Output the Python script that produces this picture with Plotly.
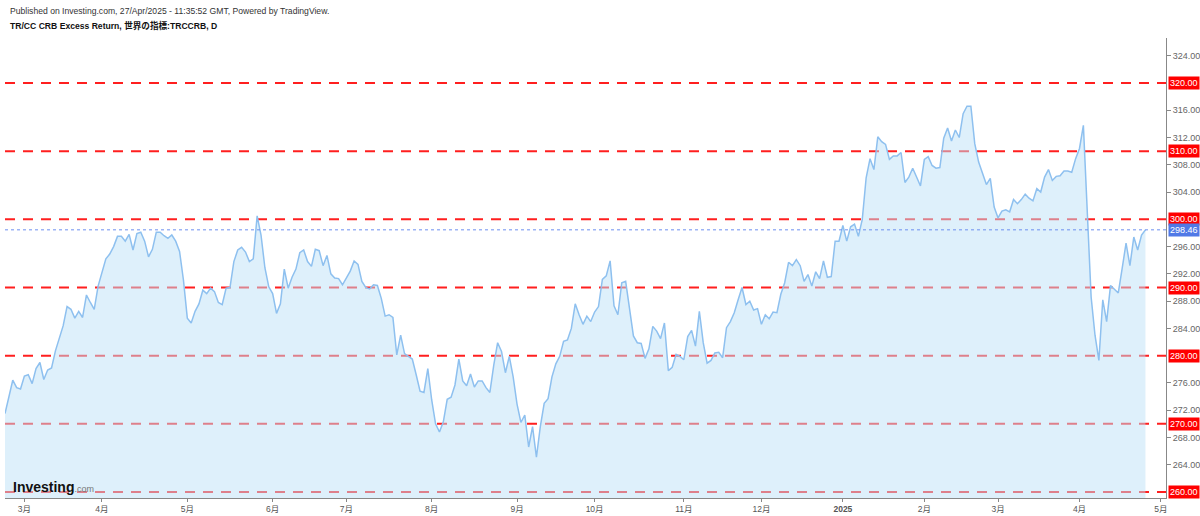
import pandas as pd
import plotly.graph_objects as go

# ---- data ----
start_date = "2024-02-23"
tick_end_date = "2025-05-01"
holidays = ["2024-03-29", "2024-05-27", "2024-06-19", "2024-07-04", "2024-09-02",
            "2024-11-28", "2024-12-25", "2025-01-01", "2025-01-20", "2025-02-17",
            "2025-04-18"]

values = [
    271.5, 274.0, 276.4, 275.3, 275.1, 277.0, 277.2, 275.9, 278.1, 279.0,
    276.5, 277.9, 278.2, 280.7, 282.7, 284.4, 287.2, 286.8, 285.5, 286.5,
    285.6, 288.9, 287.8, 286.8, 290.2, 292.4, 294.2, 294.9, 296.0, 297.5,
    297.5, 296.8, 297.8, 295.5, 297.9, 298.1, 296.8, 294.5, 295.6, 298.1,
    298.1, 297.6, 297.2, 297.7, 296.8, 295.3, 291.1, 285.5, 284.8, 286.5,
    287.6, 289.6, 289.1, 289.9, 289.4, 287.8, 287.5, 289.9, 290.0, 293.8,
    295.5, 295.9, 295.2, 293.8, 294.2, 300.5, 297.7, 292.9, 290.1, 289.1,
    286.2, 287.6, 292.7, 289.9, 291.5, 292.7, 295.1,
    295.5, 293.8, 293.1, 295.6, 295.4, 293.2, 294.7, 292.0, 291.4, 291.3,
    290.4, 291.5, 292.4, 293.9, 293.4, 290.9, 290.0, 289.8, 290.4, 290.3,
    288.4, 285.8, 286.0, 285.6, 280.1, 283.0, 280.3, 279.9, 279.5, 277.2,
    274.8, 274.6, 278.1, 273.5, 270.0, 268.8, 270.3, 273.6, 273.9, 275.7,
    279.5, 276.3, 275.6, 277.3, 275.4, 276.3, 276.3, 275.3, 274.6, 278.6,
    281.9, 280.6, 277.5, 279.9, 276.9, 272.9, 270.2, 271.3, 266.6, 269.6,
    265.1, 269.6, 273.0, 273.7, 276.9, 278.8, 279.9, 282.1, 282.3, 284.0,
    287.6, 286.0, 284.6, 285.8,
    285.0, 286.4, 287.2, 291.2, 291.7, 293.9, 287.3, 286.0, 290.7, 290.9,
    287.0, 282.9, 281.9, 281.8, 279.6, 281.0, 284.3, 283.6, 282.5, 284.8,
    277.8, 278.3, 280.2, 279.9, 279.4, 282.8, 283.7, 281.4, 286.5, 281.9,
    278.9, 279.3, 280.4, 280.5, 279.7, 284.1, 285.0, 286.3, 288.2, 290.0,
    287.5, 288.0, 286.7, 286.9, 284.6, 286.0, 285.4, 286.4, 286.3, 289.0,
    290.7, 293.7, 293.2, 294.1, 293.2, 290.9, 291.9, 290.2, 292.3, 291.3,
    293.9, 291.5, 291.6, 296.8, 296.8, 299.1, 296.8, 298.9, 299.3, 297.5,
    300.0, 306.1,
    308.9, 307.3, 312.1, 311.4, 311.0, 308.8, 309.3, 309.3, 309.8, 305.4,
    306.2, 307.5, 306.2, 304.9, 308.8, 309.2, 307.9, 307.5, 307.6, 311.9,
    313.4, 311.5, 313.1, 312.0, 315.5, 316.6, 316.6, 311.1, 308.4, 306.7,
    305.1, 306.0, 301.8, 300.2, 301.2, 301.4, 301.1, 302.9, 302.3, 302.9,
    303.7, 303.1, 302.7, 304.5, 304.0, 306.2, 307.3, 305.7, 306.3, 306.4,
    307.1, 307.1, 306.9, 308.9, 310.4, 313.8, 302.0, 288.6, 283.0, 279.3,
    288.2, 285.0, 290.3, 289.7, 289.2, 292.8, 296.5, 293.2, 297.4, 295.5,
    297.7, 298.46,
]

levels = [260, 270, 280, 290, 300, 310, 320]
last_price = 298.46
y_ticks = [264, 268, 272, 276, 284, 288, 292, 296, 304, 308, 312, 316, 324]

header_line1 = "Published on Investing.com, 27/Apr/2025 - 11:35:52 GMT, Powered by TradingView."
header_line2 = "TR/CC CRB Excess Return, 世界の指標:TRCCRB, D"

# ---- trading calendar (bar index axis like TradingView) ----
all_days = pd.bdate_range(start_date, tick_end_date)
all_days = all_days[~all_days.isin(pd.to_datetime(holidays))]
bar_idx = list(range(len(values)))

tick_vals, tick_text = [], []
prev = None
for i, d in enumerate(all_days):
    key = (d.year, d.month)
    if prev is not None and key != prev:
        tick_vals.append(i)
        tick_text.append("<b>%d</b>" % d.year if d.month == 1 else "%d月" % d.month)
    prev = key

FONT = "Liberation Sans, Arial, Noto Sans CJK JP, sans-serif"

fig = go.Figure()
fig.add_trace(go.Scatter(
    x=bar_idx, y=values, mode="lines",
    line=dict(color="#8ec0ef", width=1.5),
    fill="tozeroy", fillcolor="rgba(190,225,248,0.5)",
    hoverinfo="y", showlegend=False,
))

for lvl in levels:
    fig.add_shape(type="line", xref="paper", x0=0, x1=1, yref="y", y0=lvl, y1=lvl,
                  line=dict(color="#ff1f1f", width=2, dash="10px,8px"), layer="below")
    fig.add_annotation(xref="paper", x=1, xanchor="left", xshift=2,
                       yref="y", y=lvl, yanchor="middle",
                       text="%.2f" % lvl, showarrow=False,
                       bgcolor="#ff0000", borderpad=1,
                       font=dict(color="white", size=9, family=FONT))

fig.add_shape(type="line", xref="paper", x0=0, x1=1, yref="y", y0=last_price, y1=last_price,
              line=dict(color="#6d8ff0", width=1, dash="dot"))
fig.add_annotation(xref="paper", x=1, xanchor="left", xshift=2,
                   yref="y", y=last_price, yanchor="middle",
                   text="%.2f" % last_price, showarrow=False,
                   bgcolor="#5079e6", borderpad=1,
                   font=dict(color="white", size=9, family=FONT))

fig.add_annotation(xref="paper", x=0, xanchor="left", xshift=3,
                   yref="paper", y=1, yanchor="middle", yshift=27,
                   text=header_line1, showarrow=False,
                   font=dict(color="#333333", size=8.6, family=FONT))
fig.add_annotation(xref="paper", x=0, xanchor="left", xshift=3,
                   yref="paper", y=1, yanchor="middle", yshift=13,
                   text="<b>" + header_line2 + "</b>", showarrow=False,
                   font=dict(color="#111111", size=8.6, family=FONT))
fig.add_annotation(xref="paper", x=0, xanchor="left", xshift=6,
                   yref="paper", y=0, yanchor="middle", yshift=11,
                   text="<b>Investing</b><span style='font-size:9px;color:#777777'>.com</span>",
                   showarrow=False,
                   font=dict(color="#111111", size=14, family=FONT))

fig.update_layout(
    width=1200, height=516,
    margin=dict(l=5, r=34, t=38, b=18, autoexpand=False),
    paper_bgcolor="white", plot_bgcolor="white",
    showlegend=False,
    font=dict(family=FONT),
    xaxis=dict(range=[0, 299.3], tickvals=tick_vals, ticktext=tick_text,
               ticks="outside", ticklen=3, tickcolor="#888888",
               showline=True, linecolor="#888888", linewidth=1,
               showgrid=False, zeroline=False, automargin=False,
               tickfont=dict(size=8.5, color="#555555", family=FONT)),
    yaxis=dict(side="right", range=[259.12, 326.6],
               tickvals=y_ticks, ticktext=["%.2f" % v for v in y_ticks],
               ticks="outside", ticklen=4, tickcolor="#888888",
               showline=True, linecolor="#888888", linewidth=1,
               showgrid=False, zeroline=False, automargin=False,
               tickfont=dict(size=9, color="#666666", family=FONT)),
)

fig.write_html("out.html", config={"displayModeBar": False},
               post_script="document.body.style.margin='0';document.body.style.overflow='hidden';")
